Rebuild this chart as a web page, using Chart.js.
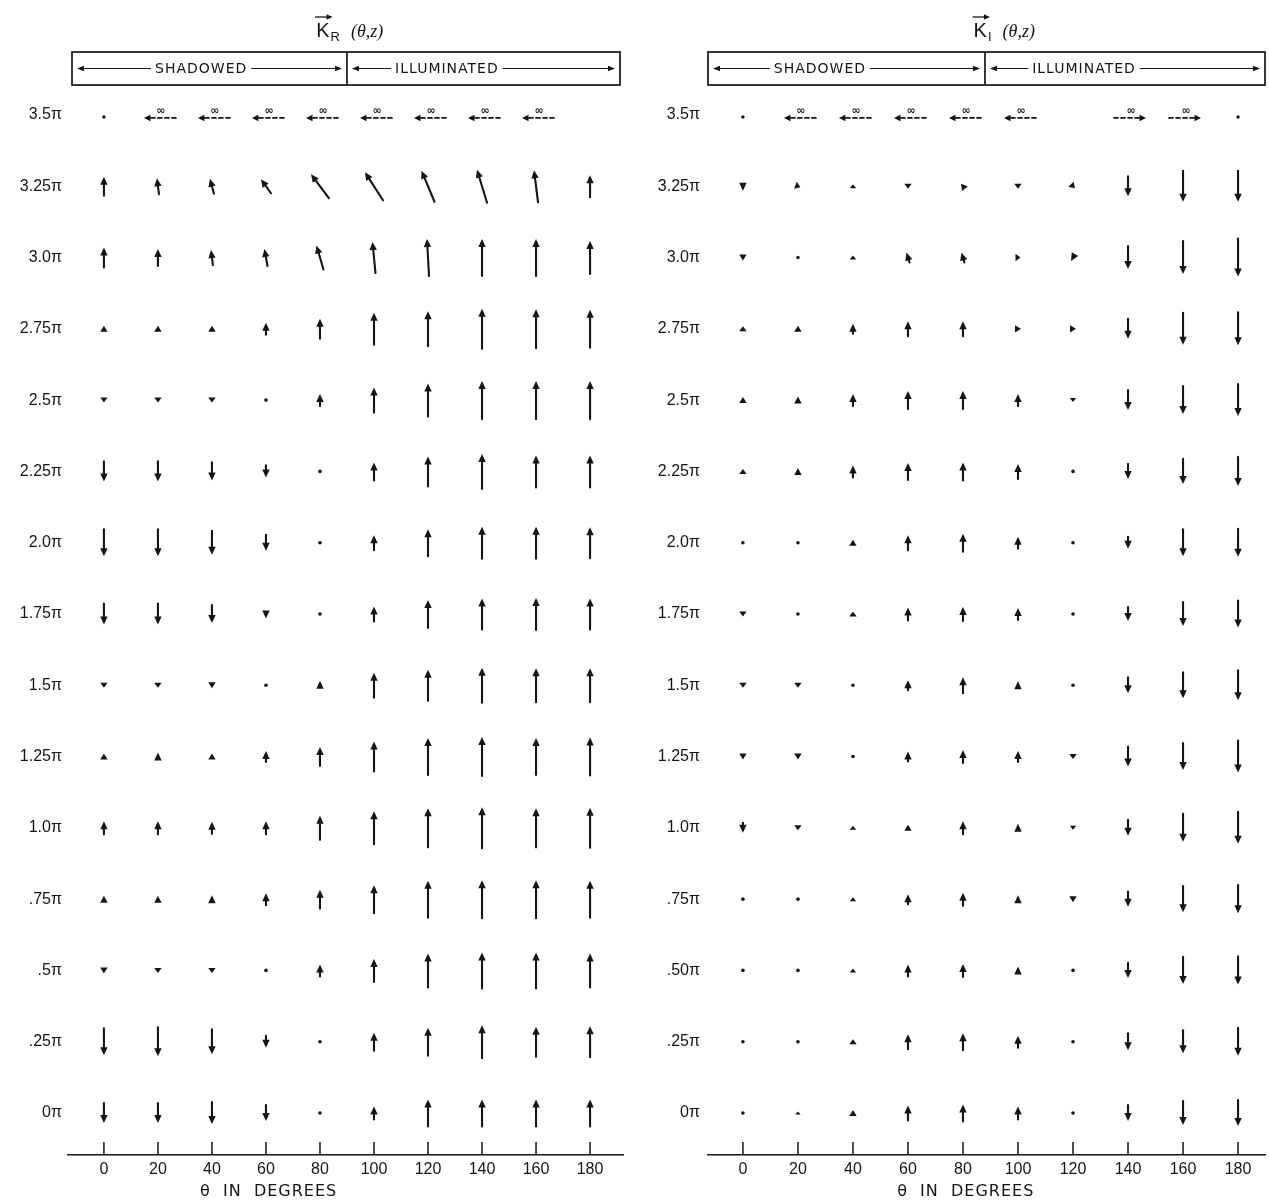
<!DOCTYPE html>
<html lang="en">
<head>
<meta charset="UTF-8">
<title>K_R and K_I vector field</title>
<script src="https://cdn.jsdelivr.net/npm/chart.js"></script>
<style>
  body { margin: 0; background: #fff; }
  .wrap { position: relative; width: 1269px; height: 1204px; }
  canvas { position: absolute; top: 0; }
  #chartR { left: 0; }
  #chartI { left: 634px; }
</style>
</head>
<body>
<div class="wrap">
  <canvas id="chartR" width="634" height="1204"></canvas>
  <canvas id="chartI" width="635" height="1204"></canvas>
</div>
<script>
// grid of the field: theta across, z up
const thetaDeg = [0, 20, 40, 60, 80, 100, 120, 140, 160, 180];
const thetaLabels = ['0', '20', '40', '60', '80', '100', '120', '140', '160', '180'];
const zLevels = [0, 0.25, 0.5, 0.75, 1.0, 1.25, 1.5, 1.75, 2.0, 2.25, 2.5, 2.75, 3.0, 3.25, 3.5];
const zLabelsR = ['0π', '.25π', '.5π', '.75π', '1.0π', '1.25π', '1.5π', '1.75π', '2.0π', '2.25π', '2.5π', '2.75π', '3.0π', '3.25π', '3.5π'];
const zLabelsI = ['0π', '.25π', '.50π', '.75π', '1.0π', '1.25π', '1.5π', '1.75π', '2.0π', '2.25π', '2.5π', '2.75π', '3.0π', '3.25π', '3.5π'];

// K_R: vertical component (+ up), rows z = 0 .. 3.25π
const kRUp = [
  [-20, -20, -22, -16, 0, 13, 27, 27, 27, 27],
  [-27, -29, -25, -12, 0, 18, 28, 33, 30, 31],
  [-6, -5, -5, 0, 12, 23, 34, 36, 36, 34],
  [7, 7, 8, 12, 19, 28, 37, 38, 38, 37],
  [13, 13, 12, 13, 24, 33, 39, 41, 39, 40],
  [6, 8, 6, 11, 19, 30, 37, 39, 37, 38],
  [-5, -5, -6, 0, 9, 25, 31, 35, 34, 34],
  [-21, -21, -18, -9, 0, 15, 28, 31, 32, 31],
  [-27, -27, -24, -16, 0, 15, 27, 32, 32, 31],
  [-20, -20, -18, -12, 0, 18, 30, 35, 32, 32],
  [-5, -5, -5, 0, 12, 25, 33, 38, 38, 38],
  [6, 6, 6, 12, 20, 32, 35, 40, 39, 38],
  [20, 17, 15, 17, 24, 31, 37, 37, 37, 33],
  [19, 16, 15, 14, 24, 28, 31, 33, 32, 22]
];
// K_R: horizontal component (+ right)
const kRSide = [
  [0, 0, 0, 0, 0, 0, 0, 0, 0, 0],
  [0, 0, 0, 0, 0, 0, 0, 0, 0, 0],
  [0, 0, 0, 0, 0, 0, 0, 0, 0, 0],
  [0, 0, 0, 0, 0, 0, 0, 0, 0, 0],
  [0, 0, 0, 0, 0, 0, 0, 0, 0, 0],
  [0, 0, 0, 0, 0, 0, 0, 0, 0, 0],
  [0, 0, 0, 0, 0, 0, 0, 0, 0, 0],
  [0, 0, 0, 0, 0, 0, 0, 0, 0, 0],
  [0, 0, 0, 0, 0, 0, 0, 0, 0, 0],
  [0, 0, 0, 0, 0, 0, 0, 0, 0, 0],
  [0, 0, 0, 0, 0, 0, 0, 0, 0, 0],
  [0, 0, 0, 0, 0, 0, 0, 0, 0, 0],
  [0, 0, -2, -3, -7, -3, -2, 0, 0, 0],
  [0, -2, -4, -10, -18, -18, -13, -10, -4, 0]
];
// z = 3.5π row: -1 infinite to the left, 1 to the right, 0 vanishing, null blank
const kRInf = [0, -1, -1, -1, -1, -1, -1, -1, -1, null];

// K_I: vertical component (+ up)
const kIUp = [
  [0, 3, 6, 15, 17, 13, 0, -16, -24, -26],
  [0, 0, 5, 15, 17, 12, 0, -17, -23, -28],
  [0, 0, 4, 12, 13, 8, 0, -15, -27, -28],
  [0, 0, 4, 10, 13, 8, -6, -15, -26, -28],
  [-10, -5, 4, 6, 13, 8, -4, -16, -28, -32],
  [-6, -6, 0, 10, 13, 11, -5, -20, -27, -32],
  [-5, -5, 0, 10, 16, 8, 0, -16, -26, -30],
  [-5, 0, 5, 13, 14, 12, 0, -14, -24, -27],
  [0, 0, 6, 15, 18, 12, 0, -12, -27, -28],
  [5, 7, 12, 17, 18, 15, 0, -15, -25, -29],
  [6, 7, 12, 18, 18, 12, -4, -20, -28, -32],
  [5, 6, 10, 15, 15, 0, 0, -20, -32, -33],
  [-6, 0, 4, 10, 10, 0, -7, -23, -33, -38],
  [-9, -2, 4, -5, 5, -5, -4, -20, -31, -31]
];
// K_I: horizontal component (+ right)
const kISide = [
  [0, 0, 0, 0, 0, 0, 0, 0, 0, 0],
  [0, 0, 0, 0, 0, 0, 0, 0, 0, 0],
  [0, 0, 0, 0, 0, 0, 0, 0, 0, 0],
  [0, 0, 0, 0, 0, 0, 0, 0, 0, 0],
  [0, 0, 0, 0, 0, 0, 0, 0, 0, 0],
  [0, 0, 0, 0, 0, 0, 0, 0, 0, 0],
  [0, 0, 0, 0, 0, 0, 0, 0, 0, 0],
  [0, 0, 0, 0, 0, 0, 0, 0, 0, 0],
  [0, 0, 0, 0, 0, 0, 0, 0, 0, 0],
  [0, 0, 0, 0, 0, 0, 0, 0, 0, 0],
  [0, 0, 0, 0, 0, 0, 0, 0, 0, 0],
  [0, 0, 0, 0, 0, 6, 6, 0, 0, 0],
  [0, 0, 0, -3, -3, 5, -4, 0, 0, 0],
  [0, 5, 0, 0, -4, 0, 4, 0, 0, 0]
];
const kIInf = [0, -1, -1, -1, -1, -1, null, 1, 1, 0];

const INK = '#151515';
const UNIT_Z = 0.25 / 71.3;   // z span of one unit of arrow length
const INF_LEN = 32;           // drawn length of the "infinite" arrows

function arrowHead(ctx, tx, ty, ang, len, half) {
  const bx = tx - len * Math.cos(ang), by = ty - len * Math.sin(ang);
  ctx.beginPath();
  ctx.moveTo(tx, ty);
  ctx.lineTo(bx + half * Math.sin(ang), by - half * Math.cos(ang));
  ctx.lineTo(bx - half * Math.sin(ang), by + half * Math.cos(ang));
  ctx.closePath();
  ctx.fill();
}

// draws one arrow per grid point, centred on the point
const vectorPlugin = {
  id: 'vectorField',
  afterDatasetsDraw(chart) {
    const ctx = chart.ctx;
    const ys = chart.scales.y;
    const pxPerUnit = ys.getPixelForValue(0) - ys.getPixelForValue(UNIT_Z);
    const pts = chart.data.datasets[0].data;
    ctx.save();
    ctx.fillStyle = INK;
    ctx.strokeStyle = INK;
    ctx.lineCap = 'round';
    chart.getDatasetMeta(0).data.forEach((el, i) => {
      const d = pts[i];
      const cx = el.x, cy = el.y;
      if (d.inf !== undefined) {
        if (d.inf === 0) {
          ctx.beginPath(); ctx.arc(cx, cy + 2, 1.7, 0, Math.PI * 2); ctx.fill();
          return;
        }
        const half = INF_LEN * pxPerUnit / 2;
        const ox = cx + 2, ly = cy + 3;
        const tip = ox + d.inf * half, tail = ox - d.inf * half;
        ctx.lineWidth = 1.7;
        ctx.setLineDash([4, 3]);
        ctx.beginPath(); ctx.moveTo(tail, ly); ctx.lineTo(tip - d.inf * 5, ly); ctx.stroke();
        ctx.setLineDash([]);
        arrowHead(ctx, tip, ly, d.inf > 0 ? 0 : Math.PI, 6.5, 3.2);
        ctx.font = 'bold 11px "DejaVu Sans"';
        ctx.textAlign = 'center';
        ctx.textBaseline = 'alphabetic';
        ctx.fillText('∞', ox + 1, ly - 4);
        return;
      }
      const dx = d.u * pxPerUnit, dy = -d.v * pxPerUnit;
      const L = Math.hypot(dx, dy);
      if (L < 1) {
        ctx.beginPath(); ctx.arc(cx, cy, 1.8, 0, Math.PI * 2); ctx.fill();
        return;
      }
      const ang = Math.atan2(dy, dx);
      const tx = cx + dx / 2, ty = cy + dy / 2;
      const headLen = Math.min(8, L);
      const half = Math.min(3.7, 0.5 * L + 1.2);
      if (L > headLen + 1) {
        ctx.lineWidth = 2.1;
        ctx.beginPath();
        ctx.moveTo(cx - dx / 2, cy - dy / 2);
        ctx.lineTo(tx - (headLen - 1) * Math.cos(ang), ty - (headLen - 1) * Math.sin(ang));
        ctx.stroke();
      }
      arrowHead(ctx, tx, ty, ang, headLen, half);
    });
    ctx.restore();
  }
};

// upward tick marks on the theta axis and the axis caption
function axisPlugin(captionTheta) {
  return {
    id: 'thetaAxis',
    afterDraw(chart) {
      const {ctx, chartArea: ca, scales: {x}} = chart;
      ctx.save();
      ctx.strokeStyle = INK;
      ctx.fillStyle = INK;
      ctx.lineWidth = 1.5;
      thetaDeg.forEach(t => {
        const px = x.getPixelForValue(t);
        ctx.beginPath(); ctx.moveTo(px, ca.bottom); ctx.lineTo(px, ca.bottom - 13); ctx.stroke();
      });
      ctx.font = '16px "DejaVu Sans"';
      ctx.letterSpacing = '1px';
      ctx.textAlign = 'center';
      ctx.textBaseline = 'middle';
      ctx.fillText('θ  IN  DEGREES', x.getPixelForValue(captionTheta), ca.bottom + 37);
      ctx.restore();
    }
  };
}

function boxLabel(ctx, text, left, right, center, y) {
  ctx.font = '14px "DejaVu Sans"';
  ctx.letterSpacing = '1px';
  const w = ctx.measureText(text).width;
  ctx.textAlign = 'center';
  ctx.textBaseline = 'middle';
  ctx.fillText(text, center, y + 1);
  ctx.lineWidth = 1.1;
  const a = center - w / 2 - 4, b = center + w / 2 + 4;
  ctx.beginPath(); ctx.moveTo(left + 6, y); ctx.lineTo(a, y); ctx.moveTo(b, y); ctx.lineTo(right - 6, y); ctx.stroke();
  arrowHead(ctx, left + 5, y, Math.PI, 7, 2.8);
  arrowHead(ctx, right - 5, y, 0, 7, 2.8);
  ctx.letterSpacing = '0px';
}

// title K with vector bar and the shadowed / illuminated box
function headerPlugin(cfg) {
  return {
    id: 'header',
    afterDraw(chart) {
      const {ctx, chartArea: ca, scales: {x}} = chart;
      ctx.save();
      ctx.fillStyle = INK;
      ctx.strokeStyle = INK;
      ctx.textAlign = 'left';
      ctx.textBaseline = 'alphabetic';

      const base = ca.top - 58;
      const fK = '20px "Liberation Sans"', fS = '13px "Liberation Sans"', fP = 'italic 18px "Liberation Serif"';
      const paren = '  (θ,z)';
      ctx.font = fK; const wK = ctx.measureText('K').width;
      ctx.font = fS; const wS = ctx.measureText(cfg.sub).width;
      ctx.font = fP; const wP = ctx.measureText(paren).width;
      const sx = x.getPixelForValue(cfg.titleTheta) - (wK + wS + wP + 3) / 2;
      ctx.font = fK; ctx.fillText('K', sx, base);
      ctx.lineWidth = 1.3;
      ctx.beginPath(); ctx.moveTo(sx - 1, base - 20); ctx.lineTo(sx + wK + 1, base - 20); ctx.stroke();
      arrowHead(ctx, sx + wK + 3, base - 20, 0, 6, 2.8);
      ctx.font = fS; ctx.fillText(cfg.sub, sx + wK + 1, base + 4);
      ctx.font = fP; ctx.fillText(paren, sx + wK + wS + 3, base);

      const top = ca.top - 43, bot = ca.top - 10;
      const left = ca.left + cfg.boxInset[0], right = ca.right - cfg.boxInset[1];
      const mid = x.getPixelForValue(cfg.divTheta);
      ctx.lineWidth = 1.7;
      ctx.strokeRect(left, top, right - left, bot - top);
      ctx.beginPath(); ctx.moveTo(mid, top); ctx.lineTo(mid, bot); ctx.stroke();
      const ly = (top + bot) / 2;
      boxLabel(ctx, 'SHADOWED', left, mid, x.getPixelForValue(cfg.shadowTheta), ly);
      boxLabel(ctx, 'ILLUMINATED', mid, right, x.getPixelForValue(cfg.litTheta), ly);
      ctx.restore();
    }
  };
}

function makeField(id, up, side, inf, yLabels, opts) {
  const points = [];
  zLevels.forEach((z, r) => {
    thetaDeg.forEach((t, c) => {
      if (r < up.length) points.push({x: t, y: z, u: side[r][c], v: up[r][c]});
      else if (inf[c] !== null) points.push({x: t, y: z, inf: inf[c]});
    });
  });
  const tickFont = {family: '"Liberation Sans"', size: 16};
  return new Chart(document.getElementById(id), {
    type: 'scatter',
    data: {datasets: [{data: points, pointRadius: 0, pointHoverRadius: 0}]},
    options: {
      responsive: false,
      animation: false,
      events: [],
      layout: {padding: {top: 95, right: opts.padRight, left: 0, bottom: 0}},
      plugins: {legend: {display: false}, tooltip: {enabled: false}},
      scales: {
        x: {
          type: 'linear',
          min: opts.xMin,
          max: opts.xMax,
          afterBuildTicks: s => { s.ticks = thetaDeg.map(v => ({value: v})); },
          afterFit: s => { s.height = 49; },
          grid: {display: false, drawTicks: false},
          border: {display: true, color: INK, width: 1.6},
          ticks: {
            callback: (v, i) => thetaLabels[i],
            autoSkip: false, maxRotation: 0, padding: 5,
            color: INK, font: tickFont
          }
        },
        y: {
          type: 'linear',
          min: -0.1473,
          max: 3.570,
          afterBuildTicks: s => { s.ticks = zLevels.map(v => ({value: v})); },
          afterFit: s => { s.width = opts.yWidth; },
          grid: {display: false, drawTicks: false},
          border: {display: false},
          ticks: {
            callback: (v, i) => yLabels[i],
            padding: opts.yPad, color: INK, font: tickFont
          }
        }
      }
    },
    plugins: [vectorPlugin, axisPlugin(opts.captionTheta), headerPlugin(opts.header)]
  });
}

makeField('chartR', kRUp, kRSide, kRInf, zLabelsR, {
  xMin: -13.3, xMax: 192.2, yWidth: 68, yPad: 6, padRight: 11, captionTheta: 61,
  header: {sub: 'R', titleTheta: 91, divTheta: 90, shadowTheta: 36, litTheta: 127, boxInset: [4, 3]}
});
makeField('chartI', kIUp, kISide, kIInf, zLabelsI, {
  xMin: -12.7, xMax: 189.8, yWidth: 74, yPad: 8, padRight: 4, captionTheta: 81,
  header: {sub: 'I', titleTheta: 95, divTheta: 88, shadowTheta: 28, litTheta: 124, boxInset: [0, 0]}
});
</script>
</body>
</html>
